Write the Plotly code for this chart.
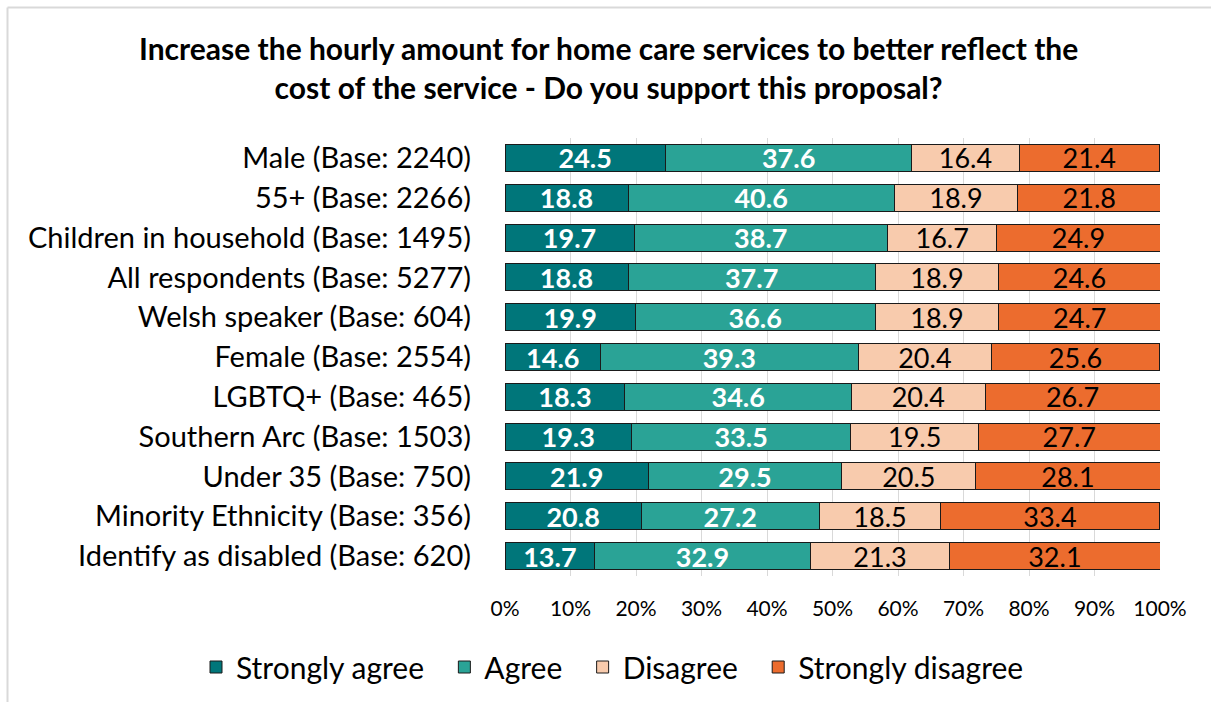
import plotly.graph_objects as go

# Survey groups, top to bottom
groups = [
    "Male (Base: 2240)",
    "55+ (Base: 2266)",
    "Children in household (Base: 1495)",
    "All respondents (Base: 5277)",
    "Welsh speaker (Base: 604)",
    "Female (Base: 2554)",
    "LGBTQ+ (Base: 465)",
    "Southern Arc (Base: 1503)",
    "Under 35 (Base: 750)",
    "Minority Ethnicity (Base: 356)",
    "Identify as disabled (Base: 620)",
]

strongly_agree = [24.5, 18.8, 19.7, 18.8, 19.9, 14.6, 18.3, 19.3, 21.9, 20.8, 13.7]
agree = [37.6, 40.6, 38.7, 37.7, 36.6, 39.3, 34.6, 33.5, 29.5, 27.2, 32.9]
disagree = [16.4, 18.9, 16.7, 18.9, 18.9, 20.4, 20.4, 19.5, 20.5, 18.5, 21.3]
strongly_disagree = [21.4, 21.8, 24.9, 24.6, 24.7, 25.6, 26.7, 27.7, 28.1, 33.4, 32.1]

x_ticks = [0, 10, 20, 30, 40, 50, 60, 70, 80, 90, 100]
x_tick_labels = [f"{v}%" for v in x_ticks]

title_text = ("Increase the hourly amount for home care services to better reflect the<br>"
              "cost of the service - Do you support this proposal?")

FONT = "Lato"
W, H = 1211, 702
L, R, T, B = 505, 51, 138, 126
pw = W - L - R
ph = H - T - B


def px_x(v):
    return (v - L) / pw


def px_y(v):
    return (H - B - v) / ph


series = [
    ("Strongly agree", strongly_agree, "#00767A", "white"),
    ("Agree", agree, "#2AA396", "white"),
    ("Disagree", disagree, "#F8CBAD", "black"),
    ("Strongly disagree", strongly_disagree, "#EC6C2E", "black"),
]

# a little extra room after each legend entry except the last
LEGEND_PAD = "\u00a0\u00a0"

fig = go.Figure()
for i, (name, vals, color, tcolor) in enumerate(series):
    fig.add_trace(go.Bar(
        name=name + (LEGEND_PAD if i < len(series) - 1 else ""),
        y=groups,
        x=vals,
        orientation="h",
        marker=dict(color=color, line=dict(color="#1a1a1a", width=1)),
        text=[f"{v:.1f}" for v in vals],
        textposition="inside",
        insidetextanchor="middle",
        constraintext="none",
        textfont=dict(family=FONT, size=27, color=tcolor,
                      weight="bold" if tcolor == "white" else "normal"),
        hoverinfo="skip",
    ))

fig.update_layout(
    width=W, height=H,
    barmode="stack",
    bargap=0.32,
    paper_bgcolor="white",
    plot_bgcolor="white",
    margin=dict(l=L, r=R, t=T, b=B, autoexpand=False),
    font=dict(family=FONT, size=28, color="black"),
    xaxis=dict(
        range=[0, 100],
        tickvals=x_ticks,
        ticktext=x_tick_labels,
        showgrid=True,
        gridcolor="#D9D9D9",
        gridwidth=1,
        zeroline=False,
        showline=False,
        tickfont=dict(family=FONT, size=21, color="black"),
        ticks="",
        ticklabelstandoff=18,
    ),
    yaxis=dict(
        categoryorder="array",
        categoryarray=groups,
        autorange="reversed",
        showgrid=False,
        showline=False,
        ticks="",
        tickfont=dict(family=FONT, size=29, color="black"),
        ticklabelstandoff=33,
    ),
    legend=dict(
        orientation="h",
        xref="paper", x=px_x(196), xanchor="left",
        yref="paper", y=px_y(667), yanchor="middle",
        font=dict(family=FONT, size=30, color="black"),
        traceorder="normal",
        itemwidth=30,
        bgcolor="rgba(0,0,0,0)",
    ),
    showlegend=True,
)

# Two-line bold title
fig.add_annotation(
    text=title_text,
    xref="paper", yref="paper",
    x=px_x(608), y=px_y(68),
    xanchor="center", yanchor="middle",
    showarrow=False,
    align="center",
    font=dict(family=FONT, size=30, color="black", weight="bold"),
)

# Chart border (left and top edges lie inside the frame)
fig.add_shape(type="line", xref="paper", yref="paper",
              x0=px_x(7.5), x1=px_x(W + 5), y0=px_y(7.5), y1=px_y(7.5),
              line=dict(color="#D9D9D9", width=2))
fig.add_shape(type="line", xref="paper", yref="paper",
              x0=px_x(7.5), x1=px_x(7.5), y0=px_y(7.5), y1=px_y(H + 5),
              line=dict(color="#D9D9D9", width=2))

fig.write_html("out.html")
